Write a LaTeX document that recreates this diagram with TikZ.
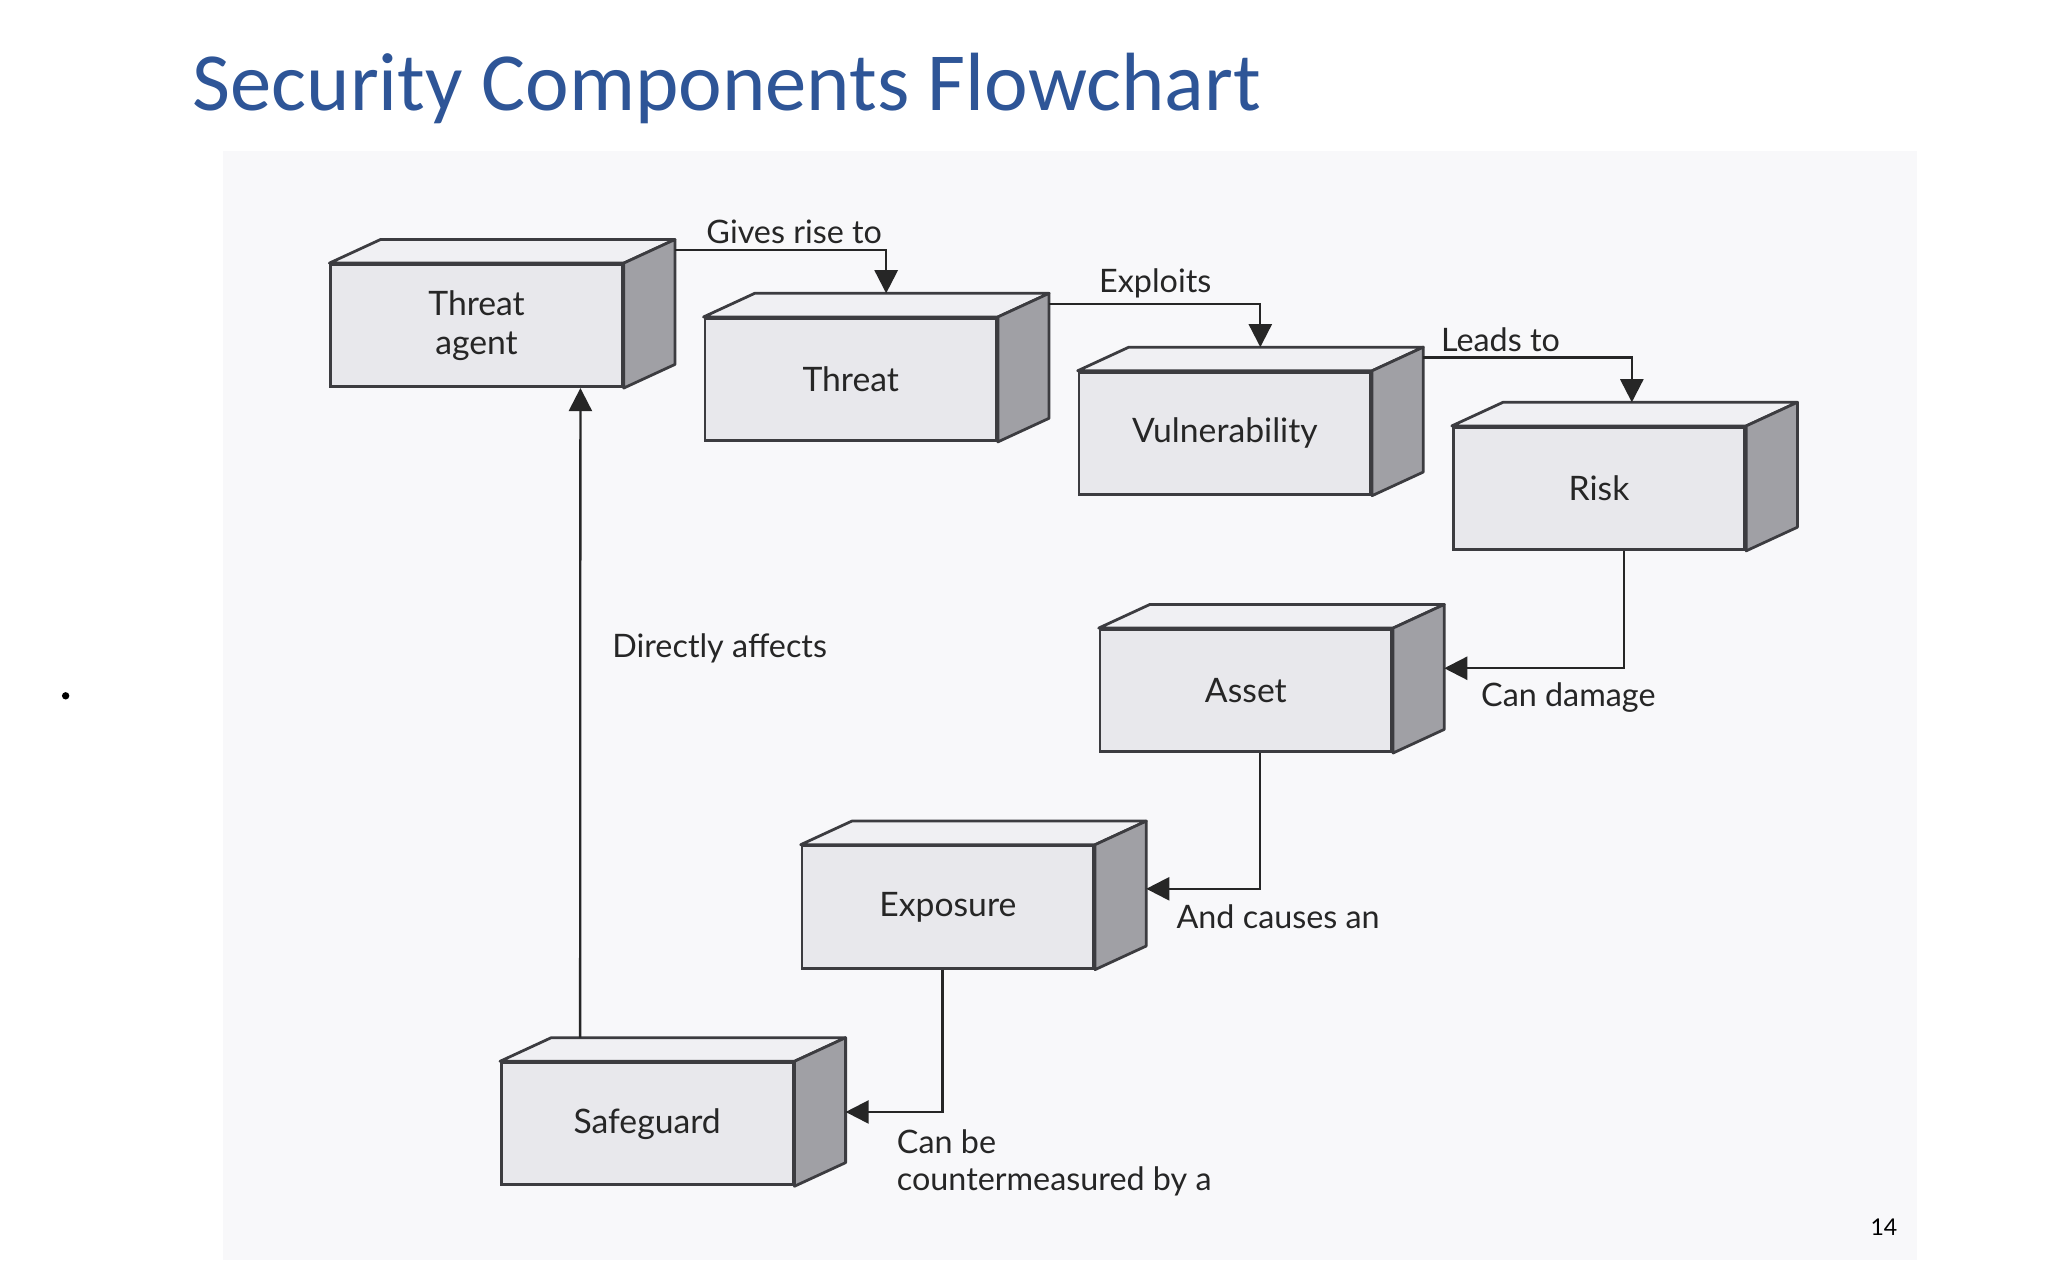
\documentclass[tikz,border=0pt]{standalone}
\usepackage{fontspec}
\setmainfont{Lato}
\newfontfamily\titlefont{Carlito}
\usetikzlibrary{arrows.meta,calc}
\definecolor{titleblue}{RGB}{46,85,151}
\definecolor{bggray}{RGB}{248,248,250}
\definecolor{frontface}{RGB}{232,232,236}
\definecolor{topface}{RGB}{240,240,243}
\definecolor{sideface}{RGB}{160,160,165}
\definecolor{edgegray}{RGB}{60,60,64}
\begin{document}
\begin{tikzpicture}[x=0.01cm,y=-0.01cm,
  box/.style={draw=edgegray,line width=0.6pt,fill=frontface,minimum width=2.22cm,
    minimum height=0.93cm,inner sep=0pt,font=\fontsize{7.3}{8.3}\selectfont,
    align=center,text=black!85},
  link/.style={-{Triangle[length=5pt,width=5pt]},draw=black!85,line width=0.5pt},
  lbl/.style={font=\fontsize{7}{8}\selectfont,text=black!85,inner sep=1pt}]
\useasboundingbox (0,0) rectangle (1560,975);
\fill[white] (0,0) rectangle (1560,975);
\fill[bggray] (170,115) rectangle (1460,960);
\node[anchor=base west,text=titleblue,font=\titlefont\fontsize{17.9}{20}\selectfont,inner sep=0pt]
  (title) at (146,84) {Security Components Flowchart};
\node[font=\fontsize{5}{6}\selectfont,inner sep=0pt] (page) at (1435,935) {14};
\node[circle,fill=black,inner sep=0pt,minimum size=1.6pt] (dot) at (50,530) {};
% boxes
\foreach \n/\x/\y/\t in {ta/363/248/{Threat\\agent},th/648/289/Threat,vu/933/330/Vulnerability,
  ri/1218/372/Risk,as/949/526/Asset,ex/722/691/Exposure,sg/493/856/Safeguard}{
  \node[box] (\n) at (\x,\y) {\t};
  \draw[edgegray,line width=0.6pt,fill=topface,line join=round]
    (\n.north west) -- ++(39,-18) -- ($(\n.north east)+(39,-18)$) -- (\n.north east) -- cycle;
  \draw[edgegray,line width=0.6pt,fill=sideface,line join=round]
    (\n.north east) -- ++(39,-18) -- ($(\n.south east)+(39,-18)$) -- (\n.south east) -- cycle;
}
% connectors
\coordinate (c1) at ($(ta.north east)+(39,-10)$);
\draw[link] (c1) -| ($(th.north)+(27,-18)$) node[pos=0.5,above,lbl,xshift=-0.7cm] {Gives rise to};
\coordinate (c2) at ($(th.north east)+(39,-10)$);
\draw[link] (c2) -| ($(vu.north)+(27,-18)$) node[pos=0.5,above,lbl,xshift=-0.8cm] {Exploits};
\coordinate (c3) at ($(vu.north east)+(39,-10)$);
\draw[link] (c3) -| ($(ri.north)+(25,-18)$) node[pos=0.5,above,lbl,xshift=-1cm] {Leads to};
\draw[link] ($(ri.south)+(19,0)$) |- ($(as.east)+(39,-17)$);
\node[lbl,anchor=north west] (cd) at (1124,516) {Can damage};
\draw[link] ($(as.south)+(11,0)$) |- ($(ex.east)+(39,-14)$);
\node[lbl,anchor=north west] (ca) at (892,685) {And causes an};
\draw[link] ($(ex.south)+(-4,0)$) |- ($(sg.east)+(39,-9)$);
\node[lbl,anchor=north west,align=left] (cm) at (679,856) {Can be\\countermeasured by a};
\draw[link] ($(sg.north west)+(61,-18)$) -- ($(ta.south east)+(-33,0)$)
  node[pos=0.6,right,lbl,xshift=0.2cm] {Directly affects};
\end{tikzpicture}
\end{document}
